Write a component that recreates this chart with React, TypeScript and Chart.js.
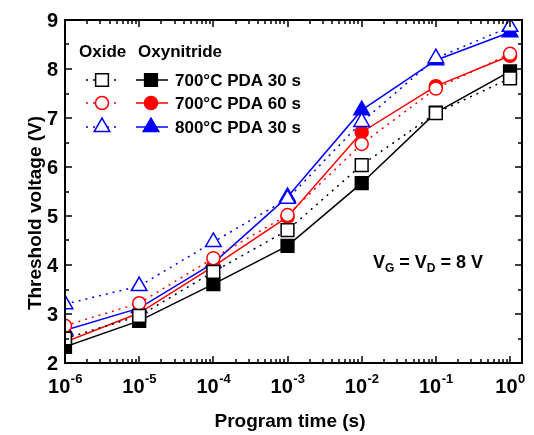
import React, { useEffect, useRef } from 'react';
import { Chart, registerables } from 'chart.js';

Chart.register(...registerables);

// ---- data ----
const programTimes = [1e-6, 1e-5, 1e-4, 1e-3, 1e-2, 1e-1, 1];
const oxide700pda30 = [2.5, 2.96, 3.86, 4.71, 6.04, 7.1, 7.81];
const oxy700pda30 = [2.33, 2.86, 3.61, 4.39, 5.67, 7.11, 7.95];
const oxide700pda60 = [2.76, 3.22, 4.14, 5.02, 6.47, 7.6, 8.31];
const oxy700pda60 = [2.43, 3.02, 3.97, 4.98, 6.71, 7.65, 8.27];
const oxide800pda30 = [3.2, 3.57, 4.47, 5.35, 6.92, 8.22, 8.86];
const oxy800pda30 = [2.67, 3.12, 4.04, 5.39, 7.16, 8.18, 8.75];

const seriesLabels = ['700°C PDA 30 s', '700°C PDA 60 s', '800°C PDA 30 s'];
const legendHeaders = ['Oxide', 'Oxynitride'];
const xDecades = [-6, -5, -4, -3, -2, -1, 0];
const yTickValues = [2, 3, 4, 5, 6, 7, 8, 9];
const xTitle = 'Program time (s)';
const yTitle = 'Threshold voltage (V)';
const xMin = 1e-6;
const xMax = 1.45;
const yMin = 2;
const yMax = 9;

const seriesColors = ['#000000', '#ff0000', '#0000ff'];
const seriesShapes = ['rect', 'circle', 'triangle'];
const shapeRadius: Record<string, number> = { rect: 9, circle: 6.5, triangle: 9 };

const FONT = '"Liberation Sans", Arial, Helvetica, sans-serif';

function toPoints(vals: number[]) {
  return programTimes.map((t, i) => ({ x: t, y: vals[i] }));
}

function drawMarker(ctx: CanvasRenderingContext2D, shape: string, x: number, y: number, filled: boolean, color: string) {
  const r = shapeRadius[shape];
  ctx.beginPath();
  if (shape === 'rect') {
    const s = r * Math.SQRT1_2;
    ctx.rect(x - s, y - s, 2 * s, 2 * s);
  } else if (shape === 'circle') {
    ctx.arc(x, y, r, 0, Math.PI * 2);
  } else {
    ctx.moveTo(x, y - r);
    ctx.lineTo(x + r * Math.sin((2 * Math.PI) / 3), y - r * Math.cos((2 * Math.PI) / 3));
    ctx.lineTo(x + r * Math.sin((4 * Math.PI) / 3), y - r * Math.cos((4 * Math.PI) / 3));
    ctx.closePath();
  }
  ctx.fillStyle = filled ? color : '#ffffff';
  ctx.fill();
  ctx.lineWidth = 1.5;
  ctx.strokeStyle = color;
  ctx.setLineDash([]);
  ctx.stroke();
}

const decorPlugin = {
  id: 'decor',
  afterDraw(chart: any) {
    const ctx: CanvasRenderingContext2D = chart.ctx;
    const { left, right, top, bottom } = chart.chartArea;
    const xs = chart.scales.x;
    const ys = chart.scales.y;
    ctx.save();
    ctx.setLineDash([]);
    // ticks
    ctx.strokeStyle = '#000';
    ctx.lineWidth = 1.5;
    for (const d of xDecades) {
      for (let m = 1; m <= 9; m++) {
        const v = m * Math.pow(10, d);
        if (v > xMax) break;
        const px = Math.round(xs.getPixelForValue(v));
        const len = m === 1 ? 7 : 4;
        ctx.beginPath();
        ctx.moveTo(px, bottom);
        ctx.lineTo(px, bottom - len);
        ctx.moveTo(px, top);
        ctx.lineTo(px, top + len);
        ctx.stroke();
      }
    }
    for (let v = yMin; v <= yMax + 1e-9; v += 0.5) {
      const py = Math.round(ys.getPixelForValue(v));
      const len = Number.isInteger(v) ? 7 : 4;
      ctx.beginPath();
      ctx.moveTo(left, py);
      ctx.lineTo(left + len, py);
      ctx.moveTo(right, py);
      ctx.lineTo(right - len, py);
      ctx.stroke();
    }
    // frame
    ctx.lineWidth = 2;
    ctx.strokeRect(left, top, right - left, bottom - top);

    ctx.fillStyle = '#000';
    // y tick labels
    ctx.font = `bold 20px ${FONT}`;
    ctx.textAlign = 'right';
    ctx.textBaseline = 'middle';
    for (const v of yTickValues) {
      ctx.fillText(String(v), left - 7, ys.getPixelForValue(v) + 1);
    }
    // x tick labels 10^d
    ctx.textBaseline = 'alphabetic';
    ctx.textAlign = 'left';
    for (const d of xDecades) {
      const px = xs.getPixelForValue(Math.pow(10, d));
      ctx.font = `bold 20px ${FONT}`;
      const wBase = ctx.measureText('10').width;
      ctx.font = `bold 13px ${FONT}`;
      const sup = String(d);
      const wSup = ctx.measureText(sup).width;
      const x0 = px - (wBase + wSup) / 2;
      ctx.font = `bold 20px ${FONT}`;
      ctx.fillText('10', x0, 393);
      ctx.font = `bold 13px ${FONT}`;
      ctx.fillText(sup, x0 + wBase + 0.5, 383);
    }
    // axis titles
    ctx.font = `bold 19px ${FONT}`;
    ctx.textAlign = 'center';
    ctx.fillText(xTitle, 290, 427);
    ctx.save();
    ctx.translate(41, 213);
    ctx.rotate(-Math.PI / 2);
    ctx.fillText(yTitle, 0, 0);
    ctx.restore();

    // legend
    ctx.font = `bold 17px ${FONT}`;
    ctx.textAlign = 'left';
    ctx.fillText(legendHeaders[0], 79, 57);
    ctx.fillText(legendHeaders[1], 138, 57);
    const rowY = [80, 103, 127];
    for (let i = 0; i < 3; i++) {
      const y = rowY[i];
      const c = seriesColors[i];
      ctx.strokeStyle = c;
      ctx.lineWidth = 1.5;
      ctx.setLineDash([2, 5]);
      ctx.beginPath();
      ctx.moveTo(86, y);
      ctx.lineTo(119, y);
      ctx.stroke();
      ctx.setLineDash([]);
      ctx.beginPath();
      ctx.moveTo(136, y);
      ctx.lineTo(168, y);
      ctx.stroke();
      drawMarker(ctx, seriesShapes[i], 102, y, false, c);
      drawMarker(ctx, seriesShapes[i], 151, y, true, c);
      ctx.fillStyle = '#000';
      ctx.font = `bold 17px ${FONT}`;
      ctx.fillText(seriesLabels[i], 175, y + 6);
    }

    // annotation V_G = V_D = 8 V
    let ax = 373;
    const ay = 268;
    const big = `bold 18px ${FONT}`;
    const small = `bold 12px ${FONT}`;
    const parts: [string, string, number][] = [
      ['V', big, 0],
      ['G', small, 4],
      [' = V', big, 0],
      ['D', small, 4],
      [' = 8 V', big, 0],
    ];
    for (const [t, f, dy] of parts) {
      ctx.font = f;
      ctx.fillText(t, ax, ay + dy);
      ax += ctx.measureText(t).width;
    }
    ctx.restore();
  },
};

function makeDataset(vals: number[], idx: number, filled: boolean) {
  const c = seriesColors[idx];
  return {
    label: (filled ? 'Oxynitride ' : 'Oxide ') + seriesLabels[idx],
    data: toPoints(vals),
    borderColor: c,
    backgroundColor: c,
    borderWidth: 1.5,
    borderDash: filled ? [] : [2, 5],
    pointStyle: seriesShapes[idx],
    pointRadius: shapeRadius[seriesShapes[idx]],
    pointBorderWidth: 1.5,
    pointBorderColor: c,
    pointBackgroundColor: filled ? c : '#ffffff',
    fill: false,
    tension: 0,
    clip: 0,
  };
}

export default function App() {
  const ref = useRef<HTMLCanvasElement>(null);
  useEffect(() => {
    document.body.style.margin = '0';
    const canvas = ref.current!;
    const chart = new Chart(canvas, {
      type: 'line',
      data: {
        datasets: [
          makeDataset(oxide700pda30, 0, false),
          makeDataset(oxide700pda60, 1, false),
          makeDataset(oxide800pda30, 2, false),
          makeDataset(oxy700pda30, 0, true),
          makeDataset(oxy700pda60, 1, true),
          makeDataset(oxy800pda30, 2, true),
        ] as any,
      },
      options: {
        animation: false,
        responsive: false,
        devicePixelRatio: 1,
        layout: { padding: { left: 0, top: 20, right: 12, bottom: 0 } },
        plugins: { legend: { display: false }, tooltip: { enabled: false } },
        scales: {
          x: {
            type: 'logarithmic',
            min: xMin,
            max: xMax,
            grid: { display: false },
            border: { display: false },
            ticks: { display: false },
            afterFit: (s: any) => {
              s.height = 72;
            },
          },
          y: {
            type: 'linear',
            min: yMin,
            max: yMax,
            grid: { display: false },
            border: { display: false },
            ticks: { display: false },
            afterFit: (s: any) => {
              s.width = 65;
            },
          },
        },
      } as any,
      plugins: [decorPlugin],
    });
    return () => chart.destroy();
  }, []);
  return (
    <div style={{ position: 'absolute', left: 0, top: 0, width: 534, height: 435, background: '#fff' }}>
      <canvas ref={ref} width={534} height={435} style={{ display: 'block' }} />
    </div>
  );
}
